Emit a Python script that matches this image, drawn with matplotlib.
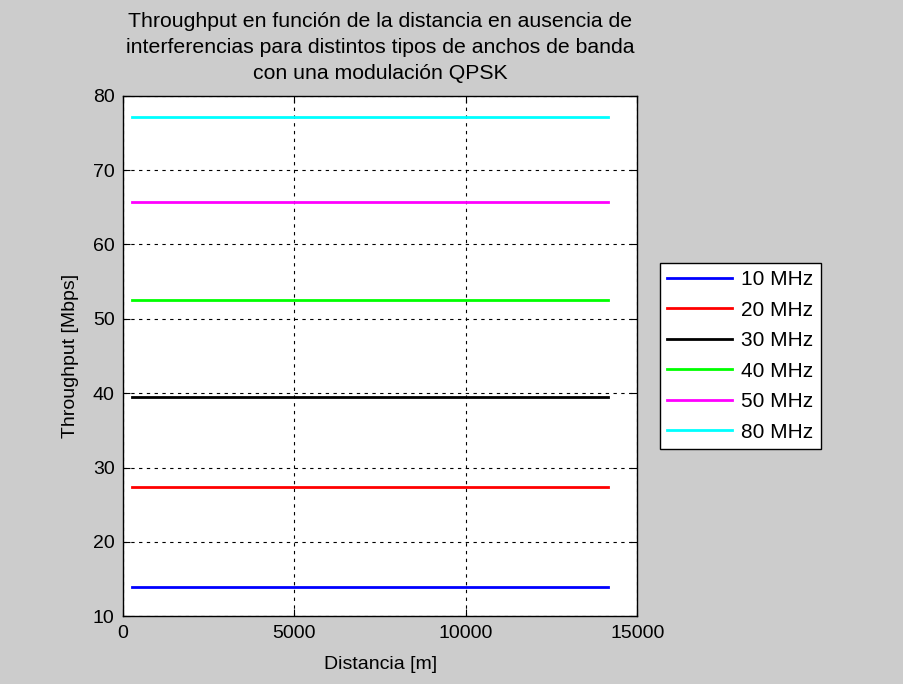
import matplotlib
matplotlib.use("Agg")
import matplotlib.pyplot as plt

# distancia [m] (inicio y fin de cada curva)
distancia = [250, 14150]

anchos = ["10 MHz", "20 MHz", "30 MHz", "40 MHz", "50 MHz", "80 MHz"]
throughput = [13.96, 27.36, 39.44, 52.6, 65.75, 77.2]
colores = ["#0000ff", "#ff0000", "#000000", "#00ff00", "#ff00ff", "#00ffff"]

plt.rcParams['font.family'] = ['Liberation Sans', 'DejaVu Sans']

fig = plt.figure(figsize=(9.04, 6.84), dpi=100, facecolor="#cccccc")
ax = fig.add_axes([0.136, 0.099, 0.569, 0.761])

for nombre, valor, color in zip(anchos, throughput, colores):
    ax.plot(distancia, [valor, valor], color=color, linewidth=2, label=nombre)

ax.set_xlim(0, 15000)
ax.set_ylim(10, 80)
ax.set_xticks([0, 5000, 10000, 15000])
ax.set_yticks(range(10, 81, 10))
ax.grid(True, color="black", linestyle=(0, (3, 4)), linewidth=0.8)
ax.tick_params(direction="in", labelsize=14, length=5, top=True, right=True,
               labeltop=False, labelright=False, pad=6)
for s in ax.spines.values():
    s.set_linewidth(1)

ax.set_xlabel("Distancia [m]", fontsize=14, labelpad=10)
ax.set_ylabel("Throughput [Mbps]", fontsize=14, labelpad=10)
ax.set_title("Throughput en función de la distancia en ausencia de\n"
             "interferencias para distintos tipos de anchos de banda\n"
             "con una modulación QPSK", fontsize=15.3, linespacing=1.48, pad=12)

leg = ax.legend(loc="upper left", bbox_to_anchor=(0.730, 0.6155),
                bbox_transform=fig.transFigure, borderaxespad=0,
                fontsize=15, frameon=True,
                fancybox=False, edgecolor="black", framealpha=1,
                handlelength=3.1, labelspacing=0.55, borderpad=0.35,
                handletextpad=0.45)
leg.get_frame().set_linewidth(1)

fig.savefig("out.png", dpi=100, facecolor=fig.get_facecolor())
